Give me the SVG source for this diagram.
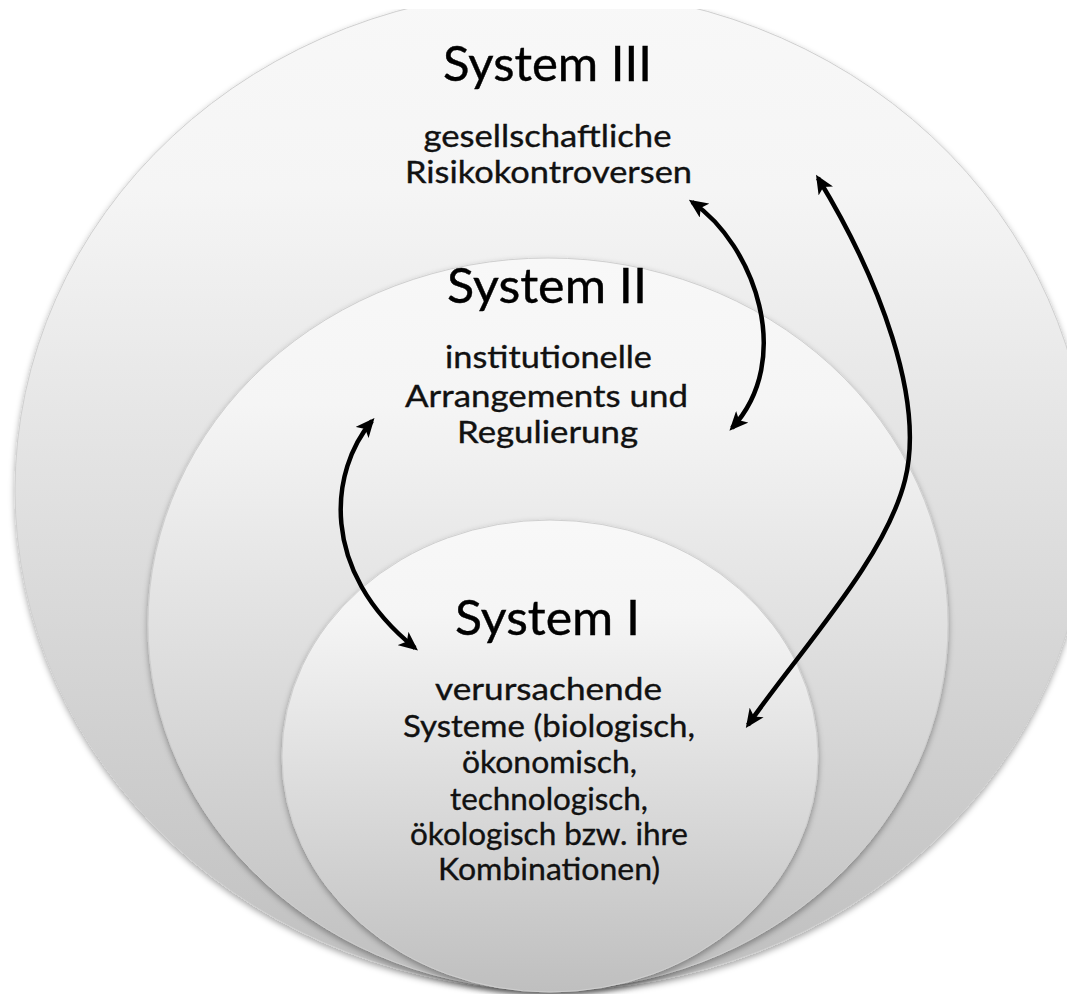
<svg xmlns="http://www.w3.org/2000/svg" width="1067" height="994" viewBox="0 0 1067 994">
<style>
.disc{stroke:#cfcfcf;stroke-width:1;filter:url(#shadow)}
.title{font-family:Lato,"Open Sans","Liberation Sans",sans-serif;font-size:48px;fill:#000;stroke:#000;stroke-width:0.4;text-anchor:middle}
.body{font-family:Lato,"Open Sans","Liberation Sans",sans-serif;font-size:30px;fill:#111;stroke:#111;stroke-width:0.35;text-anchor:middle}
.conn{fill:none;stroke:#000;stroke-width:4.5;marker-start:url(#ah);marker-end:url(#ah)}
</style>
<defs>
<linearGradient id="g" x1="0" y1="0" x2="0" y2="1">
<stop offset="0" stop-color="#f8f8f8"/>
<stop offset="0.2" stop-color="#f5f5f5"/>
<stop offset="1" stop-color="#bfbfbf"/>
</linearGradient>
<filter id="shadow" x="-10%" y="-10%" width="120%" height="125%">
<feDropShadow dx="0" dy="3" stdDeviation="3" flood-color="#000" flood-opacity="0.35"/>
</filter>
<clipPath id="top"><rect x="0" y="9" width="1067" height="985"/></clipPath>
<marker id="ah" viewBox="0 0 10 10" refX="8" refY="5" markerWidth="19" markerHeight="17" markerUnits="userSpaceOnUse" orient="auto-start-reverse" preserveAspectRatio="none">
<path d="M0,0 L10,5 L0,10 L2.5,5 Z" fill="#000"/>
</marker>
</defs>
<rect width="1067" height="994" fill="#fff"/>
<g id="system3">
<g clip-path="url(#top)"><ellipse class="disc" cx="552" cy="490" rx="537" ry="500" fill="url(#g)"/></g>
<text class="title" x="547.5" y="81" textLength="209" lengthAdjust="spacingAndGlyphs">System III</text>
<text class="body" x="547.5" y="147" textLength="248" lengthAdjust="spacingAndGlyphs">gesellschaftliche</text>
<text class="body" x="548.5" y="183" textLength="287" lengthAdjust="spacingAndGlyphs">Risikokontroversen</text>
</g>
<g id="system2">
<ellipse class="disc" cx="548" cy="624" rx="400" ry="366" fill="url(#g)"/>
<text class="title" x="547" y="303" textLength="200" lengthAdjust="spacingAndGlyphs">System II</text>
<text class="body" x="548.5" y="368" textLength="207" lengthAdjust="spacingAndGlyphs">institutionelle</text>
<text class="body" x="546.5" y="407" textLength="283" lengthAdjust="spacingAndGlyphs">Arrangements und</text>
<text class="body" x="547.5" y="443" textLength="181" lengthAdjust="spacingAndGlyphs">Regulierung</text>
</g>
<g id="system1">
<ellipse class="disc" cx="550" cy="756" rx="268" ry="236" fill="url(#g)"/>
<text class="title" x="547.5" y="635" textLength="185" lengthAdjust="spacingAndGlyphs">System I</text>
<text class="body" x="548.5" y="700" textLength="227" lengthAdjust="spacingAndGlyphs">verursachende</text>
<text class="body" x="549" y="737" textLength="292" lengthAdjust="spacingAndGlyphs">Systeme (biologisch,</text>
<text class="body" x="549.5" y="773" textLength="175" lengthAdjust="spacingAndGlyphs">ökonomisch,</text>
<text class="body" x="549" y="810" textLength="198" lengthAdjust="spacingAndGlyphs">technologisch,</text>
<text class="body" x="549" y="845" textLength="278" lengthAdjust="spacingAndGlyphs">ökologisch bzw. ihre</text>
<text class="body" x="549" y="880" textLength="222" lengthAdjust="spacingAndGlyphs">Kombinationen)</text>
</g>
<g id="connectors">
<path class="conn" d="M692 202 C755 245 795 360 732 428"/>
<path class="conn" d="M818 178 C880 280 925 400 905 480 S800 650 748 725"/>
<path class="conn" d="M372 421 C330 470 318 570 415 648"/>
</g>
</svg>
